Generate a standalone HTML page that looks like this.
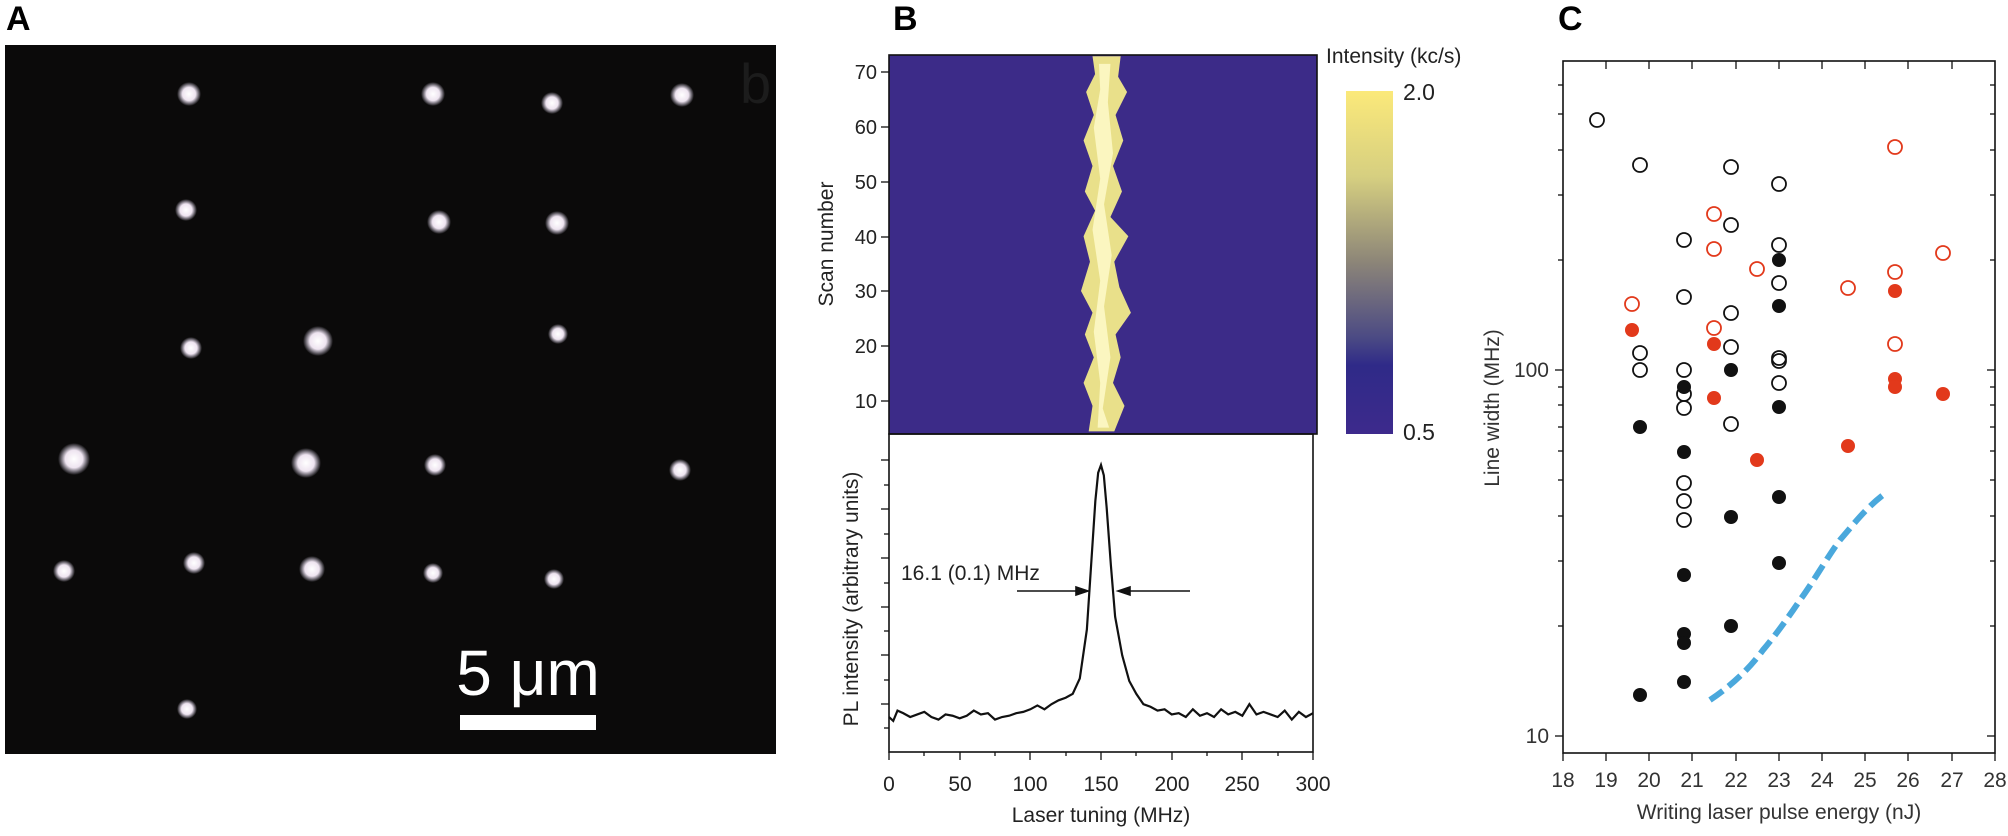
<!DOCTYPE html>
<html><head><meta charset="utf-8"><style>
body{margin:0;background:#fff;width:2008px;height:831px;overflow:hidden;font-family:"Liberation Sans",Arial,sans-serif}
</style></head><body>
<svg width="2008" height="831" viewBox="0 0 2008 831" xmlns="http://www.w3.org/2000/svg" font-family="Liberation Sans, Arial, sans-serif">
<defs>
<radialGradient id="dot"><stop offset="0" stop-color="#fff"/><stop offset="0.55" stop-color="#eee4f0"/><stop offset="1" stop-color="#e0d8f0" stop-opacity="0"/></radialGradient>
<linearGradient id="cb" x1="0" y1="0" x2="0" y2="1">
<stop offset="0" stop-color="#fbe97a"/><stop offset="0.25" stop-color="#d6cf80"/><stop offset="0.5" stop-color="#8c8578"/><stop offset="0.72" stop-color="#4b4a84"/><stop offset="0.8" stop-color="#2f2a88"/><stop offset="1" stop-color="#3d2a8c"/></linearGradient>
</defs>
<!-- Panel A -->
<text x="6" y="30" font-size="34" font-weight="bold">A</text>
<rect x="5" y="45" width="771" height="709" fill="#0b0a0a"/>
<text x="740" y="103" font-size="56" fill="#1c1c1c">b</text>
<g fill="url(#dot)">
<circle cx="189" cy="94" r="12"/><circle cx="433" cy="94" r="12"/><circle cx="552" cy="103" r="11"/><circle cx="682" cy="95" r="12"/>
<circle cx="186" cy="210" r="11"/><circle cx="439" cy="222" r="12"/><circle cx="557" cy="223" r="12"/>
<circle cx="191" cy="348" r="11"/><circle cx="318" cy="341" r="15"/><circle cx="558" cy="334" r="10"/>
<circle cx="74" cy="459" r="16"/><circle cx="306" cy="463" r="15"/><circle cx="435" cy="465" r="11"/><circle cx="680" cy="470" r="11"/>
<circle cx="64" cy="571" r="11"/><circle cx="194" cy="563" r="11"/><circle cx="312" cy="569" r="13"/><circle cx="433" cy="573" r="10"/><circle cx="554" cy="579" r="10"/>
<circle cx="187" cy="709" r="10"/>
</g>
<text x="528" y="695" font-size="64" fill="#fff" text-anchor="middle">5 μm</text>
<rect x="460" y="715" width="136" height="15" fill="#fff"/>

<!-- Panel B -->
<text x="893" y="30" font-size="34" font-weight="bold">B</text>
<rect x="889" y="55" width="428" height="379" fill="#3c2b88" stroke="#111" stroke-width="1.6"/>
<g transform="translate(889,55) scale(1.28,1.276) translate(-693,-43)">
<polygon fill="#e9e08a" points="852,44 874,44 872,60 879,72 870,90 876,110 868,130 875,150 866,170 880,185 869,205 873,225 882,245 870,262 874,280 868,300 877,318 869,338 849,338 852,318 845,300 853,280 846,262 852,245 843,228 850,205 845,185 854,165 846,150 852,130 845,110 853,90 847,72 854,58"/>
<polygon fill="#fbf6c0" points="857,50 866,50 864,80 868,120 861,160 867,200 861,240 866,280 860,320 865,335 856,335 858,300 853,260 858,220 852,180 858,140 853,100 858,70"/>
</g>
<g font-size="20" fill="#222" text-anchor="end">
<text x="877" y="79">70</text><text x="877" y="134">60</text><text x="877" y="189">50</text><text x="877" y="244">40</text><text x="877" y="298">30</text><text x="877" y="353">20</text><text x="877" y="408">10</text></g>
<g stroke="#111" stroke-width="1.3">
<line x1="881" y1="72" x2="889" y2="72"/><line x1="881" y1="127" x2="889" y2="127"/><line x1="881" y1="182" x2="889" y2="182"/><line x1="881" y1="237" x2="889" y2="237"/><line x1="881" y1="291" x2="889" y2="291"/><line x1="881" y1="346" x2="889" y2="346"/><line x1="881" y1="401" x2="889" y2="401"/></g>
<text transform="translate(833,244) rotate(-90)" font-size="21" text-anchor="middle" fill="#222">Scan number</text>
<text x="1326" y="63" font-size="21" fill="#222">Intensity (kc/s)</text>
<rect x="1346" y="91" width="47" height="343" fill="url(#cb)"/>
<text x="1403" y="100" font-size="23" fill="#222">2.0</text>
<text x="1403" y="440" font-size="23" fill="#222">0.5</text>
<rect x="889" y="434" width="424" height="318" fill="none" stroke="#111" stroke-width="1.6"/>
<g stroke="#111" stroke-width="1.3">
<line x1="881" y1="460" x2="889" y2="460"/><line x1="884" y1="485" x2="889" y2="485"/><line x1="881" y1="509" x2="889" y2="509"/><line x1="884" y1="534" x2="889" y2="534"/><line x1="881" y1="558" x2="889" y2="558"/><line x1="884" y1="583" x2="889" y2="583"/><line x1="881" y1="607" x2="889" y2="607"/><line x1="884" y1="631" x2="889" y2="631"/><line x1="881" y1="655" x2="889" y2="655"/><line x1="884" y1="680" x2="889" y2="680"/><line x1="881" y1="704" x2="889" y2="704"/><line x1="884" y1="728" x2="889" y2="728"/>
<line x1="889" y1="752" x2="889" y2="760"/><line x1="924" y1="752" x2="924" y2="756"/><line x1="960" y1="752" x2="960" y2="760"/><line x1="995" y1="752" x2="995" y2="756"/><line x1="1030" y1="752" x2="1030" y2="760"/><line x1="1066" y1="752" x2="1066" y2="756"/><line x1="1101" y1="752" x2="1101" y2="760"/><line x1="1136" y1="752" x2="1136" y2="756"/><line x1="1172" y1="752" x2="1172" y2="760"/><line x1="1207" y1="752" x2="1207" y2="756"/><line x1="1242" y1="752" x2="1242" y2="760"/><line x1="1278" y1="752" x2="1278" y2="756"/><line x1="1313" y1="752" x2="1313" y2="760"/></g>
<g font-size="21" fill="#222" text-anchor="middle">
<text x="889" y="791">0</text><text x="960" y="791">50</text><text x="1030" y="791">100</text><text x="1101" y="791">150</text><text x="1172" y="791">200</text><text x="1242" y="791">250</text><text x="1313" y="791">300</text></g>
<text x="1101" y="822" font-size="21" text-anchor="middle" fill="#222">Laser tuning (MHz)</text>
<text transform="translate(858,599) rotate(-90)" font-size="21" text-anchor="middle" fill="#222">PL intensity (arbitrary units)</text>
<g transform="translate(889,0) scale(1.4133,1) translate(0,-0.4)">
<g transform="scale(1,1.2857)">
<polyline fill="none" stroke="#111" stroke-width="2.2" vector-effect="non-scaling-stroke" points="0,558 3,561 6,553 10,555 15,558 20,556 25,554 30,558 35,560 40,556 45,557 50,559 55,557 60,553 65,556 70,555 75,560 80,558 85,557 90,555 95,554 100,552 105,549 110,552 115,548 120,545 125,543 130,540 135,528 140,490 143,440 146,390 148,368 150,362 152,370 154,395 157,440 160,480 165,510 170,530 175,540 180,548 185,550 190,553 195,552 200,556 205,555 210,558 215,552 220,557 225,555 230,558 235,552 240,556 245,554 250,557 255,548 260,556 265,554 270,556 275,558 280,553 285,560 290,554 295,558 300,555"/>
</g></g>
<text x="901" y="580" font-size="21" fill="#222">16.1 (0.1) MHz</text>
<g stroke="#111" stroke-width="1.6" fill="#111">
<line x1="1017" y1="591" x2="1080" y2="591"/><polygon points="1088,591 1076,587 1076,595"/>
<line x1="1126" y1="591" x2="1190" y2="591"/><polygon points="1118,591 1130,587 1130,595"/></g>

<!-- Panel C -->
<text x="1558" y="30" font-size="34" font-weight="bold">C</text>
<rect x="1563" y="61" width="432" height="692" fill="none" stroke="#111" stroke-width="1.6"/>
<g stroke="#111" stroke-width="1.3">
<line x1="1555" y1="736" x2="1563" y2="736"/><line x1="1987" y1="736" x2="1995" y2="736"/>
<line x1="1555" y1="370" x2="1563" y2="370"/><line x1="1987" y1="370" x2="1995" y2="370"/>
<line x1="1558" y1="626" x2="1563" y2="626"/><line x1="1990" y1="626" x2="1995" y2="626"/>
<line x1="1558" y1="561" x2="1563" y2="561"/><line x1="1990" y1="561" x2="1995" y2="561"/>
<line x1="1558" y1="516" x2="1563" y2="516"/><line x1="1990" y1="516" x2="1995" y2="516"/>
<line x1="1558" y1="480" x2="1563" y2="480"/><line x1="1990" y1="480" x2="1995" y2="480"/>
<line x1="1558" y1="451" x2="1563" y2="451"/><line x1="1990" y1="451" x2="1995" y2="451"/>
<line x1="1558" y1="427" x2="1563" y2="427"/><line x1="1990" y1="427" x2="1995" y2="427"/>
<line x1="1558" y1="405" x2="1563" y2="405"/><line x1="1990" y1="405" x2="1995" y2="405"/>
<line x1="1558" y1="387" x2="1563" y2="387"/><line x1="1990" y1="387" x2="1995" y2="387"/>
<line x1="1558" y1="260" x2="1563" y2="260"/><line x1="1990" y1="260" x2="1995" y2="260"/>
<line x1="1558" y1="195" x2="1563" y2="195"/><line x1="1990" y1="195" x2="1995" y2="195"/>
<line x1="1558" y1="150" x2="1563" y2="150"/><line x1="1990" y1="150" x2="1995" y2="150"/>
<line x1="1558" y1="114" x2="1563" y2="114"/><line x1="1990" y1="114" x2="1995" y2="114"/>
<line x1="1558" y1="85" x2="1563" y2="85"/><line x1="1990" y1="85" x2="1995" y2="85"/>
</g>
<g stroke="#111" stroke-width="1.3">
<line x1="1563" y1="753" x2="1563" y2="761"/><line x1="1606" y1="753" x2="1606" y2="761"/><line x1="1649" y1="753" x2="1649" y2="761"/><line x1="1692" y1="753" x2="1692" y2="761"/><line x1="1736" y1="753" x2="1736" y2="761"/><line x1="1779" y1="753" x2="1779" y2="761"/><line x1="1822" y1="753" x2="1822" y2="761"/><line x1="1865" y1="753" x2="1865" y2="761"/><line x1="1908" y1="753" x2="1908" y2="761"/><line x1="1952" y1="753" x2="1952" y2="761"/><line x1="1995" y1="753" x2="1995" y2="761"/>
<line x1="1606" y1="61" x2="1606" y2="69"/><line x1="1649" y1="61" x2="1649" y2="69"/><line x1="1692" y1="61" x2="1692" y2="69"/><line x1="1736" y1="61" x2="1736" y2="69"/><line x1="1779" y1="61" x2="1779" y2="69"/><line x1="1822" y1="61" x2="1822" y2="69"/><line x1="1865" y1="61" x2="1865" y2="69"/><line x1="1908" y1="61" x2="1908" y2="69"/><line x1="1952" y1="61" x2="1952" y2="69"/>
</g>
<g font-size="21" fill="#333" text-anchor="middle">
<text x="1563" y="787">18</text><text x="1606" y="787">19</text><text x="1649" y="787">20</text><text x="1692" y="787">21</text><text x="1736" y="787">22</text><text x="1779" y="787">23</text><text x="1822" y="787">24</text><text x="1865" y="787">25</text><text x="1908" y="787">26</text><text x="1952" y="787">27</text><text x="1995" y="787">28</text></g>
<g font-size="21" fill="#333" text-anchor="end"><text x="1549" y="743">10</text><text x="1549" y="377">100</text></g>
<text x="1779" y="819" font-size="21" text-anchor="middle" fill="#333">Writing laser pulse energy (nJ)</text>
<text transform="translate(1499,408) rotate(-90)" font-size="21" text-anchor="middle" fill="#333">Line width (MHz)</text>
<path d="M1710,700 C1722,692 1745,675 1763,650 C1775,636 1790,615 1800,600 C1812,584 1828,556 1840,540 C1852,526 1866,508 1883,495" fill="none" stroke="#4aa8dc" stroke-width="6" stroke-dasharray="16,7"/>
<g fill="none" stroke="#111" stroke-width="1.8">
<circle cx="1597" cy="120" r="7"/><circle cx="1640" cy="165" r="7"/><circle cx="1731" cy="167" r="7"/><circle cx="1779" cy="184" r="7"/><circle cx="1731" cy="225" r="7"/><circle cx="1684" cy="240" r="7"/><circle cx="1779" cy="245" r="7"/><circle cx="1779" cy="283" r="7"/><circle cx="1684" cy="297" r="7"/><circle cx="1731" cy="313" r="7"/><circle cx="1640" cy="353" r="7"/><circle cx="1731" cy="347" r="7"/><circle cx="1779" cy="358" r="7"/><circle cx="1779" cy="361" r="7"/><circle cx="1640" cy="370" r="7"/><circle cx="1684" cy="370" r="7"/><circle cx="1779" cy="383" r="7"/><circle cx="1684" cy="394" r="7"/><circle cx="1684" cy="408" r="7"/><circle cx="1731" cy="424" r="7"/><circle cx="1684" cy="483" r="7"/><circle cx="1684" cy="501" r="7"/><circle cx="1684" cy="520" r="7"/></g>
<g fill="#111">
<circle cx="1779" cy="260" r="7"/><circle cx="1779" cy="306" r="7"/><circle cx="1731" cy="370" r="7"/><circle cx="1684" cy="387" r="7"/><circle cx="1779" cy="407" r="7"/><circle cx="1640" cy="427" r="7"/><circle cx="1684" cy="452" r="7"/><circle cx="1779" cy="497" r="7"/><circle cx="1731" cy="517" r="7"/><circle cx="1779" cy="563" r="7"/><circle cx="1684" cy="575" r="7"/><circle cx="1731" cy="626" r="7"/><circle cx="1684" cy="634" r="7"/><circle cx="1684" cy="643" r="7"/><circle cx="1684" cy="682" r="7"/><circle cx="1640" cy="695" r="7"/></g>
<g fill="none" stroke="#e2391b" stroke-width="1.8">
<circle cx="1895" cy="147" r="7"/><circle cx="1714" cy="214" r="7"/><circle cx="1714" cy="249" r="7"/><circle cx="1943" cy="253" r="7"/><circle cx="1757" cy="269" r="7"/><circle cx="1895" cy="272" r="7"/><circle cx="1848" cy="288" r="7"/><circle cx="1632" cy="304" r="7"/><circle cx="1714" cy="328" r="7"/><circle cx="1895" cy="344" r="7"/></g>
<g fill="#e2391b">
<circle cx="1632" cy="330" r="7"/><circle cx="1714" cy="344" r="7"/><circle cx="1895" cy="291" r="7"/><circle cx="1895" cy="379" r="7"/><circle cx="1895" cy="387" r="7"/><circle cx="1943" cy="394" r="7"/><circle cx="1714" cy="398" r="7"/><circle cx="1848" cy="446" r="7"/><circle cx="1757" cy="460" r="7"/></g>
</svg>
</body></html>
